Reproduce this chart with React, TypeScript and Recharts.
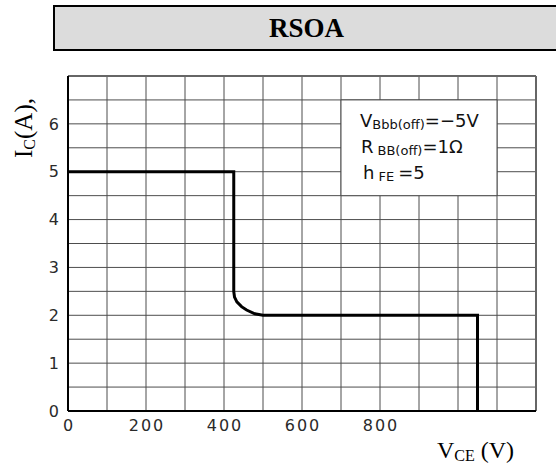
import React from "react";
import {
  LineChart,
  Line,
  XAxis,
  YAxis,
  CartesianGrid,
  ReferenceArea,
  ReferenceLine,
} from "recharts";

// RSOA of the switch: I_C against V_CE.
const vce = [0, 425, 425, 427, 433, 445, 458, 479, 500, 1050, 1050];
const ic = [5, 5, 2.5, 2.38, 2.28, 2.18, 2.11, 2.03, 2, 2, 0];

const xTicks = [0, 100, 200, 300, 400, 500, 600, 700, 800, 900, 1000, 1100, 1200];
const xLabelled = [0, 200, 400, 600, 800];
const yTicks = [0, 0.5, 1, 1.5, 2, 2.5, 3, 3.5, 4, 4.5, 5, 5.5, 6, 6.5, 7];
const yLabelled = [0, 1, 2, 3, 4, 5, 6];

const data = vce.map((v, i) => ({ vce: v, ic: ic[i] }));

const SANS = "'DejaVu Sans', Verdana, sans-serif";
const SERIF = "'Liberation Serif', 'Times New Roman', serif";
const GRID = "#4d4d4d";

// conditions box, drawn inside the white ReferenceArea
function Conditions(props: any) {
  const vb = props.viewBox || { x: 0, y: 0 };
  const x = vb.x + 19;
  const y = vb.y;
  return (
    <g fontFamily={SANS} fill="#111">
      <text x={x} y={y + 27} fontSize={18}>
        V
        <tspan fontSize={13} dy={2}>Bbb(off)</tspan>
        <tspan dy={-2}>=−5V</tspan>
      </text>
      <text x={x + 1} y={y + 53} fontSize={18}>
        R
        <tspan fontSize={13} dy={2} dx={4}>BB(off)</tspan>
        <tspan dy={-2}>=1Ω</tspan>
      </text>
      <text x={x + 3} y={y + 79} fontSize={18}>
        h
        <tspan fontSize={13} dy={2} dx={4}>FE</tspan>
        <tspan dy={-2} dx={4}>=5</tspan>
      </text>
    </g>
  );
}

export default function App() {
  return (
    <div
      style={{
        position: "absolute",
        left: 0,
        top: 0,
        width: 556,
        height: 466,
        overflow: "hidden",
        background: "#fff",
      }}
    >
      <div
        style={{
          position: "absolute",
          left: 53,
          top: 5,
          width: 520,
          height: 42,
          border: "2px solid #000",
          background: "#dcdcdc",
          boxSizing: "content-box",
        }}
      >
        <div
          style={{
            position: "absolute",
            left: 0,
            width: 503,
            top: 0,
            height: 42,
            lineHeight: "43px",
            textAlign: "center",
            fontFamily: SERIF,
            fontWeight: 700,
            fontSize: 27,
            color: "#000",
          }}
        >
          RSOA
        </div>
      </div>

      <div style={{ position: "absolute", left: 0, top: 0 }}>
        <LineChart
          width={556}
          height={466}
          data={data}
          margin={{ top: 76, right: 20, bottom: 25, left: 38 }}
        >
          <CartesianGrid stroke={GRID} strokeWidth={1} />
          <XAxis
            dataKey="vce"
            type="number"
            domain={[0, 1200]}
            ticks={xTicks}
            interval={0}
            tickFormatter={(v: number) => (xLabelled.includes(v) ? String(v) : "")}
            tickLine={false}
            tickMargin={3}
            axisLine={{ stroke: "#000", strokeWidth: 2 }}
            tick={{ fill: "#2a2a2a", fontSize: 16, fontFamily: SANS, letterSpacing: 2, dx: 1 }}
            height={30}
          />
          <YAxis
            type="number"
            domain={[0, 7]}
            ticks={yTicks}
            interval={0}
            tickFormatter={(v: number) => (yLabelled.includes(v) ? String(v) : "")}
            tickLine={false}
            tickMargin={3}
            axisLine={{ stroke: "#000", strokeWidth: 2 }}
            tick={{ fill: "#2a2a2a", fontSize: 16, fontFamily: SANS }}
            width={30}
          />
          <ReferenceLine y={7} stroke="#666" strokeWidth={2} />
          <ReferenceLine x={1200} stroke="#666" strokeWidth={2} />
          <ReferenceArea
            x1={700}
            x2={1100}
            y1={4.5}
            y2={6.5}
            fill="#fff"
            fillOpacity={1}
            stroke={GRID}
            strokeWidth={1}
            label={<Conditions />}
          />
          <Line
            dataKey="ic"
            type="linear"
            stroke="#000"
            strokeWidth={3}
            dot={false}
            isAnimationActive={false}
          />
        </LineChart>
      </div>

      <svg
        width={556}
        height={466}
        style={{ position: "absolute", left: 0, top: 0, pointerEvents: "none" }}
      >
        <text
          transform="translate(32,128) rotate(-90)"
          textAnchor="middle"
          fontFamily={SERIF}
          fontSize={25}
          fill="#000"
        >
          I<tspan fontSize={16} dy={3}>C</tspan>
          <tspan dy={-3}>(A),</tspan>
        </text>
        <text x={437} y={458} fontFamily={SERIF} fontSize={24} fill="#000">
          V<tspan fontSize={16} dy={3}>CE</tspan>
          <tspan dy={-3}> (V)</tspan>
        </text>
      </svg>
    </div>
  );
}
